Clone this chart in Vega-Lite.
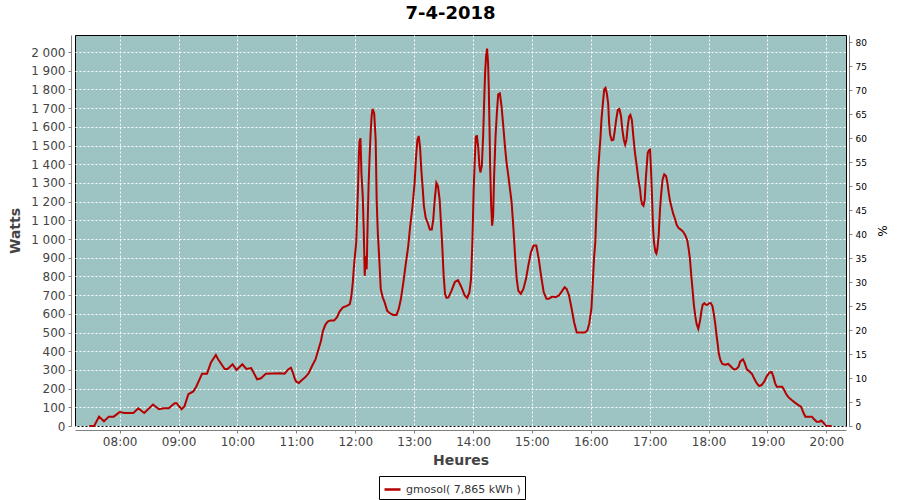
{
  "$schema": "https://vega.github.io/schema/vega-lite/v6.json",
  "width": 771,
  "height": 391,
  "autosize": {"type": "none"},
  "padding": {"left": 75, "top": 35, "right": 54, "bottom": 74},
  "background": "white",
  "title": {"text": "7-4-2018", "font": "DejaVu Sans", "fontSize": 18, "fontWeight": "bold", "color": "#000000", "offset": 12, "dx": -10},
  "config": {
    "view": {"fill": "#9ec3c3", "stroke": "#000000", "strokeWidth": 1},
    "font": "DejaVu Sans",
    "locale": {"number": {"decimal": ",", "thousands": " ", "grouping": [3], "currency": ["", " €"]}}
  },
  "datasets": {
    "power": [
      {"t":"2018-04-07T07:29:00Z","w":0},{"t":"2018-04-07T07:34:00Z","w":0},{"t":"2018-04-07T07:39:00Z","w":50},{"t":"2018-04-07T07:44:00Z","w":25},
      {"t":"2018-04-07T07:49:00Z","w":50},{"t":"2018-04-07T07:54:00Z","w":50},{"t":"2018-04-07T08:00:00Z","w":75},{"t":"2018-04-07T08:05:00Z","w":70},
      {"t":"2018-04-07T08:14:00Z","w":70},{"t":"2018-04-07T08:19:00Z","w":95},{"t":"2018-04-07T08:25:00Z","w":70},{"t":"2018-04-07T08:34:00Z","w":115},
      {"t":"2018-04-07T08:40:00Z","w":90},{"t":"2018-04-07T08:45:00Z","w":95},{"t":"2018-04-07T08:50:00Z","w":95},{"t":"2018-04-07T08:56:00Z","w":122},
      {"t":"2018-04-07T08:58:00Z","w":122},{"t":"2018-04-07T09:03:00Z","w":90},{"t":"2018-04-07T09:06:00Z","w":105},{"t":"2018-04-07T09:10:00Z","w":170},
      {"t":"2018-04-07T09:15:00Z","w":185},{"t":"2018-04-07T09:18:00Z","w":210},{"t":"2018-04-07T09:24:00Z","w":280},{"t":"2018-04-07T09:29:00Z","w":280},
      {"t":"2018-04-07T09:33:00Z","w":340},{"t":"2018-04-07T09:38:00Z","w":380},{"t":"2018-04-07T09:40:00Z","w":360},{"t":"2018-04-07T09:47:00Z","w":305},
      {"t":"2018-04-07T09:50:00Z","w":305},{"t":"2018-04-07T09:55:00Z","w":330},{"t":"2018-04-07T09:59:00Z","w":300},{"t":"2018-04-07T10:05:00Z","w":330},
      {"t":"2018-04-07T10:09:00Z","w":305},{"t":"2018-04-07T10:14:00Z","w":310},{"t":"2018-04-07T10:20:00Z","w":250},{"t":"2018-04-07T10:24:00Z","w":255},
      {"t":"2018-04-07T10:29:00Z","w":280},{"t":"2018-04-07T10:43:00Z","w":282},{"t":"2018-04-07T10:48:00Z","w":280},{"t":"2018-04-07T10:52:00Z","w":304},
      {"t":"2018-04-07T10:54:30Z","w":312},{"t":"2018-04-07T10:56:30Z","w":286},{"t":"2018-04-07T10:58:30Z","w":251},{"t":"2018-04-07T11:00:00Z","w":237},
      {"t":"2018-04-07T11:02:30Z","w":230},{"t":"2018-04-07T11:06:00Z","w":247},{"t":"2018-04-07T11:09:00Z","w":260},{"t":"2018-04-07T11:12:30Z","w":282},
      {"t":"2018-04-07T11:16:00Z","w":321},{"t":"2018-04-07T11:19:30Z","w":356},{"t":"2018-04-07T11:22:30Z","w":409},{"t":"2018-04-07T11:25:00Z","w":453},
      {"t":"2018-04-07T11:27:00Z","w":506},{"t":"2018-04-07T11:29:30Z","w":541},{"t":"2018-04-07T11:32:00Z","w":559},{"t":"2018-04-07T11:34:30Z","w":564},
      {"t":"2018-04-07T11:38:30Z","w":564},{"t":"2018-04-07T11:41:30Z","w":582},{"t":"2018-04-07T11:44:00Z","w":612},{"t":"2018-04-07T11:47:30Z","w":635},
      {"t":"2018-04-07T11:51:30Z","w":642},{"t":"2018-04-07T11:54:30Z","w":652},{"t":"2018-04-07T11:56:00Z","w":691},{"t":"2018-04-07T11:57:30Z","w":767},
      {"t":"2018-04-07T11:59:00Z","w":874},{"t":"2018-04-07T12:01:00Z","w":980},{"t":"2018-04-07T12:02:00Z","w":1140},{"t":"2018-04-07T12:03:00Z","w":1300},
      {"t":"2018-04-07T12:03:40Z","w":1441},{"t":"2018-04-07T12:04:20Z","w":1520},{"t":"2018-04-07T12:05:20Z","w":1539},{"t":"2018-04-07T12:06:20Z","w":1352},
      {"t":"2018-04-07T12:07:40Z","w":1228},{"t":"2018-04-07T12:08:40Z","w":1051},{"t":"2018-04-07T12:09:40Z","w":803},{"t":"2018-04-07T12:10:40Z","w":909},
      {"t":"2018-04-07T12:11:40Z","w":838},{"t":"2018-04-07T12:12:40Z","w":1087},{"t":"2018-04-07T12:13:40Z","w":1300},{"t":"2018-04-07T12:14:40Z","w":1441},
      {"t":"2018-04-07T12:15:40Z","w":1565},{"t":"2018-04-07T12:16:40Z","w":1654},{"t":"2018-04-07T12:17:40Z","w":1696},{"t":"2018-04-07T12:19:20Z","w":1672},
      {"t":"2018-04-07T12:20:50Z","w":1530},{"t":"2018-04-07T12:21:50Z","w":1211},{"t":"2018-04-07T12:23:00Z","w":1033},{"t":"2018-04-07T12:24:30Z","w":892},
      {"t":"2018-04-07T12:26:00Z","w":732},{"t":"2018-04-07T12:28:00Z","w":688},{"t":"2018-04-07T12:30:00Z","w":661},{"t":"2018-04-07T12:32:30Z","w":617},
      {"t":"2018-04-07T12:35:00Z","w":604},{"t":"2018-04-07T12:38:40Z","w":594},{"t":"2018-04-07T12:42:00Z","w":594},{"t":"2018-04-07T12:44:20Z","w":626},
      {"t":"2018-04-07T12:46:30Z","w":679},{"t":"2018-04-07T12:49:00Z","w":767},{"t":"2018-04-07T12:51:40Z","w":874},{"t":"2018-04-07T12:54:00Z","w":962},
      {"t":"2018-04-07T12:56:00Z","w":1069},{"t":"2018-04-07T12:58:20Z","w":1175},{"t":"2018-04-07T13:00:30Z","w":1300},{"t":"2018-04-07T13:02:00Z","w":1441},
      {"t":"2018-04-07T13:03:20Z","w":1530},{"t":"2018-04-07T13:04:40Z","w":1551},{"t":"2018-04-07T13:06:00Z","w":1494},{"t":"2018-04-07T13:07:20Z","w":1370},
      {"t":"2018-04-07T13:08:50Z","w":1264},{"t":"2018-04-07T13:10:00Z","w":1175},{"t":"2018-04-07T13:11:50Z","w":1113},{"t":"2018-04-07T13:13:50Z","w":1087},
      {"t":"2018-04-07T13:16:00Z","w":1051},{"t":"2018-04-07T13:18:00Z","w":1051},{"t":"2018-04-07T13:19:30Z","w":1104},{"t":"2018-04-07T13:21:00Z","w":1211},
      {"t":"2018-04-07T13:22:40Z","w":1300},{"t":"2018-04-07T13:24:20Z","w":1282},{"t":"2018-04-07T13:26:00Z","w":1211},{"t":"2018-04-07T13:27:20Z","w":1087},
      {"t":"2018-04-07T13:28:40Z","w":962},{"t":"2018-04-07T13:30:00Z","w":812},{"t":"2018-04-07T13:31:30Z","w":705},{"t":"2018-04-07T13:33:00Z","w":685},
      {"t":"2018-04-07T13:35:00Z","w":688},{"t":"2018-04-07T13:38:00Z","w":723},{"t":"2018-04-07T13:41:30Z","w":770},{"t":"2018-04-07T13:44:40Z","w":780},
      {"t":"2018-04-07T13:48:00Z","w":745},{"t":"2018-04-07T13:51:30Z","w":698},{"t":"2018-04-07T13:54:00Z","w":685},{"t":"2018-04-07T13:56:20Z","w":714},
      {"t":"2018-04-07T13:58:00Z","w":785},{"t":"2018-04-07T13:59:20Z","w":980},{"t":"2018-04-07T14:00:40Z","w":1264},{"t":"2018-04-07T14:01:40Z","w":1406},
      {"t":"2018-04-07T14:02:50Z","w":1548},{"t":"2018-04-07T14:04:00Z","w":1550},{"t":"2018-04-07T14:05:20Z","w":1490},{"t":"2018-04-07T14:06:30Z","w":1392},
      {"t":"2018-04-07T14:07:30Z","w":1356},{"t":"2018-04-07T14:09:00Z","w":1392},{"t":"2018-04-07T14:10:20Z","w":1552},{"t":"2018-04-07T14:11:20Z","w":1730},
      {"t":"2018-04-07T14:12:20Z","w":1890},{"t":"2018-04-07T14:13:20Z","w":1979},{"t":"2018-04-07T14:14:20Z","w":2018},{"t":"2018-04-07T14:15:20Z","w":1943},
      {"t":"2018-04-07T14:16:00Z","w":1819},{"t":"2018-04-07T14:16:50Z","w":1587},{"t":"2018-04-07T14:17:30Z","w":1374},{"t":"2018-04-07T14:18:30Z","w":1178},
      {"t":"2018-04-07T14:19:30Z","w":1071},{"t":"2018-04-07T14:20:30Z","w":1125},{"t":"2018-04-07T14:21:30Z","w":1338},{"t":"2018-04-07T14:23:00Z","w":1552},
      {"t":"2018-04-07T14:24:20Z","w":1676},{"t":"2018-04-07T14:25:40Z","w":1774},{"t":"2018-04-07T14:27:20Z","w":1779},{"t":"2018-04-07T14:29:00Z","w":1712},
      {"t":"2018-04-07T14:30:50Z","w":1605},{"t":"2018-04-07T14:32:30Z","w":1498},{"t":"2018-04-07T14:34:10Z","w":1409},{"t":"2018-04-07T14:36:00Z","w":1338},
      {"t":"2018-04-07T14:37:40Z","w":1267},{"t":"2018-04-07T14:39:20Z","w":1196},{"t":"2018-04-07T14:41:00Z","w":1071},{"t":"2018-04-07T14:42:50Z","w":911},
      {"t":"2018-04-07T14:44:30Z","w":787},{"t":"2018-04-07T14:46:10Z","w":724},{"t":"2018-04-07T14:48:40Z","w":707},{"t":"2018-04-07T14:51:20Z","w":733},
      {"t":"2018-04-07T14:54:00Z","w":787},{"t":"2018-04-07T14:56:20Z","w":858},{"t":"2018-04-07T14:59:00Z","w":929},{"t":"2018-04-07T15:01:40Z","w":965},
      {"t":"2018-04-07T15:04:30Z","w":965},{"t":"2018-04-07T15:07:00Z","w":893},{"t":"2018-04-07T15:09:20Z","w":804},{"t":"2018-04-07T15:12:00Z","w":716},
      {"t":"2018-04-07T15:14:50Z","w":680},{"t":"2018-04-07T15:17:10Z","w":680},{"t":"2018-04-07T15:20:40Z","w":692},{"t":"2018-04-07T15:24:00Z","w":689},
      {"t":"2018-04-07T15:27:30Z","w":698},{"t":"2018-04-07T15:31:00Z","w":724},{"t":"2018-04-07T15:33:20Z","w":742},{"t":"2018-04-07T15:35:20Z","w":733},
      {"t":"2018-04-07T15:37:50Z","w":698},{"t":"2018-04-07T15:40:30Z","w":627},{"t":"2018-04-07T15:43:00Z","w":555},{"t":"2018-04-07T15:45:40Z","w":500},
      {"t":"2018-04-07T15:49:40Z","w":500},{"t":"2018-04-07T15:53:50Z","w":500},{"t":"2018-04-07T15:56:30Z","w":511},{"t":"2018-04-07T15:58:30Z","w":550},
      {"t":"2018-04-07T16:00:40Z","w":630},{"t":"2018-04-07T16:02:00Z","w":760},{"t":"2018-04-07T16:03:20Z","w":900},{"t":"2018-04-07T16:04:40Z","w":990},
      {"t":"2018-04-07T16:05:50Z","w":1160},{"t":"2018-04-07T16:07:10Z","w":1337},{"t":"2018-04-07T16:08:30Z","w":1443},{"t":"2018-04-07T16:09:50Z","w":1540},
      {"t":"2018-04-07T16:10:50Z","w":1637},{"t":"2018-04-07T16:12:10Z","w":1717},{"t":"2018-04-07T16:13:40Z","w":1800},{"t":"2018-04-07T16:15:00Z","w":1808},
      {"t":"2018-04-07T16:16:20Z","w":1779},{"t":"2018-04-07T16:17:40Z","w":1726},{"t":"2018-04-07T16:18:40Z","w":1620},{"t":"2018-04-07T16:19:40Z","w":1558},
      {"t":"2018-04-07T16:21:20Z","w":1528},{"t":"2018-04-07T16:23:00Z","w":1531},{"t":"2018-04-07T16:24:20Z","w":1576},{"t":"2018-04-07T16:25:50Z","w":1637},
      {"t":"2018-04-07T16:27:30Z","w":1690},{"t":"2018-04-07T16:29:10Z","w":1695},{"t":"2018-04-07T16:30:50Z","w":1655},{"t":"2018-04-07T16:32:10Z","w":1584},
      {"t":"2018-04-07T16:33:40Z","w":1531},{"t":"2018-04-07T16:35:00Z","w":1505},{"t":"2018-04-07T16:36:20Z","w":1531},{"t":"2018-04-07T16:37:40Z","w":1602},
      {"t":"2018-04-07T16:39:00Z","w":1655},{"t":"2018-04-07T16:40:20Z","w":1664},{"t":"2018-04-07T16:41:50Z","w":1637},{"t":"2018-04-07T16:43:20Z","w":1549},
      {"t":"2018-04-07T16:45:00Z","w":1461},{"t":"2018-04-07T16:46:50Z","w":1390},{"t":"2018-04-07T16:48:30Z","w":1319},{"t":"2018-04-07T16:50:10Z","w":1266},
      {"t":"2018-04-07T16:51:10Z","w":1213},{"t":"2018-04-07T16:52:10Z","w":1187},{"t":"2018-04-07T16:53:40Z","w":1178},{"t":"2018-04-07T16:55:00Z","w":1213},
      {"t":"2018-04-07T16:56:00Z","w":1319},{"t":"2018-04-07T16:57:00Z","w":1390},{"t":"2018-04-07T16:58:00Z","w":1461},{"t":"2018-04-07T16:59:20Z","w":1475},
      {"t":"2018-04-07T17:00:20Z","w":1478},{"t":"2018-04-07T17:01:20Z","w":1372},{"t":"2018-04-07T17:02:20Z","w":1231},{"t":"2018-04-07T17:03:20Z","w":1072},
      {"t":"2018-04-07T17:04:20Z","w":984},{"t":"2018-04-07T17:05:50Z","w":931},{"t":"2018-04-07T17:06:50Z","w":922},{"t":"2018-04-07T17:07:50Z","w":948},
      {"t":"2018-04-07T17:09:10Z","w":1019},{"t":"2018-04-07T17:10:30Z","w":1160},{"t":"2018-04-07T17:11:50Z","w":1249},{"t":"2018-04-07T17:13:10Z","w":1319},
      {"t":"2018-04-07T17:14:50Z","w":1346},{"t":"2018-04-07T17:16:40Z","w":1337},{"t":"2018-04-07T17:18:00Z","w":1302},{"t":"2018-04-07T17:19:20Z","w":1249},
      {"t":"2018-04-07T17:20:40Z","w":1204},{"t":"2018-04-07T17:22:20Z","w":1169},{"t":"2018-04-07T17:24:00Z","w":1134},{"t":"2018-04-07T17:25:50Z","w":1107},
      {"t":"2018-04-07T17:27:30Z","w":1076},{"t":"2018-04-07T17:29:30Z","w":1058},{"t":"2018-04-07T17:32:00Z","w":1049},{"t":"2018-04-07T17:34:20Z","w":1037},
      {"t":"2018-04-07T17:36:20Z","w":1019},{"t":"2018-04-07T17:38:20Z","w":992},{"t":"2018-04-07T17:39:40Z","w":948},{"t":"2018-04-07T17:41:00Z","w":895},
      {"t":"2018-04-07T17:42:20Z","w":807},{"t":"2018-04-07T17:43:50Z","w":719},{"t":"2018-04-07T17:45:00Z","w":648},{"t":"2018-04-07T17:46:30Z","w":586},
      {"t":"2018-04-07T17:47:50Z","w":545},{"t":"2018-04-07T17:49:30Z","w":520},{"t":"2018-04-07T17:51:10Z","w":560},{"t":"2018-04-07T17:52:40Z","w":613},
      {"t":"2018-04-07T17:54:00Z","w":648},{"t":"2018-04-07T17:55:40Z","w":657},{"t":"2018-04-07T17:57:20Z","w":648},{"t":"2018-04-07T17:59:00Z","w":648},
      {"t":"2018-04-07T18:00:40Z","w":657},{"t":"2018-04-07T18:02:20Z","w":657},{"t":"2018-04-07T18:04:00Z","w":640},{"t":"2018-04-07T18:05:20Z","w":600},
      {"t":"2018-04-07T18:06:50Z","w":545},{"t":"2018-04-07T18:08:00Z","w":490},{"t":"2018-04-07T18:09:30Z","w":430},{"t":"2018-04-07T18:10:20Z","w":389},
      {"t":"2018-04-07T18:12:00Z","w":353},{"t":"2018-04-07T18:14:00Z","w":332},{"t":"2018-04-07T18:17:00Z","w":328},{"t":"2018-04-07T18:20:00Z","w":332},
      {"t":"2018-04-07T18:23:00Z","w":317},{"t":"2018-04-07T18:25:30Z","w":303},{"t":"2018-04-07T18:28:00Z","w":303},{"t":"2018-04-07T18:30:30Z","w":317},
      {"t":"2018-04-07T18:32:10Z","w":344},{"t":"2018-04-07T18:35:00Z","w":357},{"t":"2018-04-07T18:36:40Z","w":339},{"t":"2018-04-07T18:39:00Z","w":303},
      {"t":"2018-04-07T18:41:40Z","w":291},{"t":"2018-04-07T18:44:20Z","w":278},{"t":"2018-04-07T18:46:20Z","w":255},{"t":"2018-04-07T18:49:10Z","w":228},
      {"t":"2018-04-07T18:51:30Z","w":214},{"t":"2018-04-07T18:54:00Z","w":219},{"t":"2018-04-07T18:56:40Z","w":237},{"t":"2018-04-07T18:59:20Z","w":267},
      {"t":"2018-04-07T19:02:00Z","w":285},{"t":"2018-04-07T19:04:20Z","w":289},{"t":"2018-04-07T19:06:00Z","w":264},{"t":"2018-04-07T19:07:50Z","w":228},
      {"t":"2018-04-07T19:09:30Z","w":210},{"t":"2018-04-07T19:15:00Z","w":210},{"t":"2018-04-07T19:17:00Z","w":193},{"t":"2018-04-07T19:19:00Z","w":171},
      {"t":"2018-04-07T19:21:30Z","w":153},{"t":"2018-04-07T19:24:40Z","w":139},{"t":"2018-04-07T19:28:00Z","w":125},{"t":"2018-04-07T19:31:30Z","w":112},
      {"t":"2018-04-07T19:34:10Z","w":103},{"t":"2018-04-07T19:36:40Z","w":71},{"t":"2018-04-07T19:38:40Z","w":50},{"t":"2018-04-07T19:45:20Z","w":50},
      {"t":"2018-04-07T19:47:30Z","w":36},{"t":"2018-04-07T19:50:10Z","w":23},{"t":"2018-04-07T19:53:00Z","w":23},{"t":"2018-04-07T19:54:40Z","w":29},
      {"t":"2018-04-07T19:56:20Z","w":21},{"t":"2018-04-07T19:58:00Z","w":11},{"t":"2018-04-07T19:59:40Z","w":2},{"t":"2018-04-07T20:05:20Z","w":0}
    ],
    "pct": [{"p": 0}, {"p": 80}]
  },
  "layer": [
    {
      "data": {"name": "power"},
      "mark": {"type": "line", "strokeWidth": 2},
      "encoding": {
        "x": {
          "field": "t", "type": "temporal",
          "scale": {"type": "utc", "domain": [1523085270000, 1523132400000], "nice": false},
          "axis": {
            "title": "Heures", "labelExpr": "utcFormat(datum.value, '%H:%M')",
            "values": [1523088000000, 1523091600000, 1523095200000, 1523098800000, 1523102400000, 1523106000000, 1523109600000, 1523113200000, 1523116800000, 1523120400000, 1523124000000, 1523127600000, 1523131200000],
            "offset": 4, "domainColor": "#808080", "tickColor": "#808080", "tickSize": 3,
            "labelFontSize": 12, "labelColor": "#444444", "labelPadding": 3,
            "titleFontSize": 14, "titleFontWeight": "bold", "titleColor": "#444444", "titlePadding": 6,
            "grid": true, "gridColor": "#ffffff", "gridDash": [2, 2], "gridOpacity": 1, "gridWidth": 1
          }
        },
        "y": {
          "field": "w", "type": "quantitative",
          "scale": {"domain": [0, 2091], "nice": false},
          "axis": {
            "title": "Watts", "format": ",d",
            "values": [0,100,200,300,400,500,600,700,800,900,1000,1100,1200,1300,1400,1500,1600,1700,1800,1900,2000],
            "offset": 4, "domainColor": "#808080", "tickColor": "#808080", "tickSize": 3,
            "labelFontSize": 12, "labelColor": "#444444", "labelPadding": 3,
            "titleFontSize": 14, "titleFontWeight": "bold", "titleColor": "#444444", "titlePadding": 8,
            "grid": true, "gridColor": "#ffffff", "gridDash": [2, 2], "gridOpacity": 1, "gridWidth": 1
          }
        },
        "color": {
          "datum": "gmosol( 7,865 kWh )", "type": "nominal",
          "scale": {"range": ["#b50000"]},
          "legend": {
            "title": null, "orient": "none", "legendX": 304, "legendY": 441,
            "strokeColor": "#000000", "fillColor": "#ffffff", "padding": 4,
            "symbolType": "stroke", "symbolSize": 256, "symbolStrokeWidth": 2.5,
            "labelFontSize": 11, "labelColor": "#333333", "labelOffset": 4
          }
        }
      }
    },
    {
      "data": {"name": "pct"},
      "mark": {"type": "point", "opacity": 0},
      "encoding": {
        "y": {
          "field": "p", "type": "quantitative",
          "scale": {"domain": [0, 81.5], "nice": false},
          "axis": {
            "orient": "right", "title": "%", "values": [0,5,10,15,20,25,30,35,40,45,50,55,60,65,70,75,80],
            "offset": 3, "domainColor": "#808080", "tickColor": "#808080", "tickSize": 3,
            "labelFontSize": 9, "labelColor": "#000000", "labelPadding": 3,
            "titleFontSize": 12, "titleFontWeight": "normal", "titleColor": "#000000", "titlePadding": 8,
            "grid": false
          }
        }
      }
    }
  ],
  "resolve": {"scale": {"y": "independent"}, "axis": {"y": "independent"}}
}
